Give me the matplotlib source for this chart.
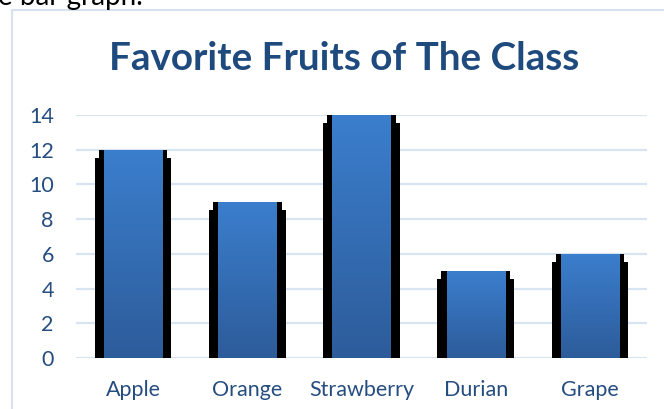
import matplotlib
matplotlib.use('Agg')
import matplotlib.pyplot as plt
import numpy as np
from matplotlib.patches import Rectangle

fruits = ['Apple', 'Orange', 'Strawberry', 'Durian', 'Grape']
counts = [12, 9, 14, 5, 6]
yticks = [0, 2, 4, 6, 8, 10, 12, 14]

plt.rcParams['font.family'] = ['Lato', 'DejaVu Sans']

fig = plt.figure(figsize=(6.64, 4.09), dpi=100)
ax = fig.add_axes([76 / 664, 51 / 409, 571 / 664, 243 / 409])

# chart frame, cut off on the right and at the bottom like the screenshot
fig.patches.append(Rectangle((12 / 664, -0.2), 1.2, 1.2 - 10 / 409,
                             transform=fig.transFigure, fill=False,
                             edgecolor='#d7e2f0', linewidth=1.5))

# leftover line of text from the page above the chart
fig.text(-0.003, 1 - 5 / 409, 'e bar graph.', fontsize=20, color='black',
         ha='left', va='baseline')

x = np.arange(len(fruits))

for yv in yticks:
    ax.axhline(yv, color='#d9e4f2', linewidth=1.6, zorder=0)

# black shadow behind each bar
ax.bar(x, [c + 0.06 - 0.46 for c in counts], width=0.67, bottom=-0.06,
       color='black', zorder=1)
ax.bar(x, [c + 0.06 for c in counts], width=0.6, bottom=-0.06,
       color='black', zorder=1)

# blue gradient bars
grad = np.linspace(0, 1, 256).reshape(-1, 1)
cmap = matplotlib.colors.LinearSegmentedColormap.from_list('b', ['#2d5c9a', '#3b7ecd'])
bars = ax.bar(x, counts, width=0.51, color='none', zorder=2)
for b in bars:
    x0, y0 = b.get_x(), b.get_y()
    w, h = b.get_width(), b.get_height()
    im = ax.imshow(grad, extent=[x0, x0 + w, y0, y0 + h], origin='lower',
                   cmap=cmap, aspect='auto', zorder=2)
    im.set_clip_path(b)

ax.set_xlim(-0.5, 4.5)
ax.set_ylim(0, 14)
ax.set_xticks(x)
ax.set_xticklabels(fruits)
ax.set_yticks(yticks)
for s in ax.spines.values():
    s.set_visible(False)
ax.tick_params(length=0, labelsize=15.5, labelcolor='#254d80')
ax.tick_params(axis='y', pad=16)
ax.tick_params(axis='x', pad=16)

fig.text(344 / 664, 1 - 59 / 409, 'Favorite Fruits of The Class', fontsize=27.8,
         fontweight='bold', color='#1f4a7e', ha='center', va='center')

fig.savefig('out.png', dpi=100)
